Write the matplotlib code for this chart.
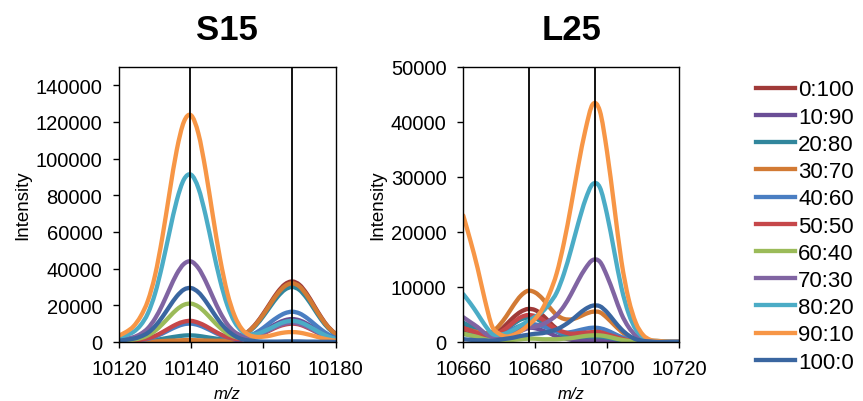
"""
S15 / L25 mass spectra overlay for the mixing ratio series.
Intensities are read off the published figure, in units of 1000 counts.
Curves are drawn as smoothed lines (like a spreadsheet "smooth line" chart).
"""

import matplotlib
matplotlib.use("Agg")
import matplotlib.pyplot as plt
from matplotlib.path import Path
from matplotlib.patches import PathPatch
from matplotlib.lines import Line2D

plt.rcParams['font.family'] = ['Liberation Sans', 'DejaVu Sans']

ratios = ['0:100', '10:90', '20:80', '30:70', '40:60', '50:50',
          '60:40', '70:30', '80:20', '90:10', '100:0']
colors = ['#A03A38', '#6A4E96', '#31869C', '#D27A34', '#4A7EC2', '#C6474A',
          '#9BBB59', '#8064A2', '#4BACC6', '#F79646', '#3A66A0']

# m/z sampling grid (every 2 Da)
s15_mz = list(range(10120, 10182, 2))
l25_mz = list(range(10660, 10722, 2))

# S15 intensities (x1000)
s15_0_100 = [0.0, 0.0, 0.0, 0.0, 0.1, 0.1, 0.1, 0.2, 0.3, 0.3, 0.3, 0.3, 0.2, 0.3, 0.4, 0.8,
             1.6, 3.2, 6.0, 10.1, 15.5, 21.5, 27.3, 31.5, 33.0, 31.2, 26.4, 20.0, 13.6, 8.2, 4.5]
s15_10_90 = [0.0, 0.0, 0.0, 0.1, 0.1, 0.1, 0.2, 0.3, 0.4, 0.5, 0.5, 0.5, 0.4, 0.3, 0.3, 0.4,
             0.7, 1.2, 2.3, 3.8, 5.9, 8.2, 10.3, 11.9, 12.5, 11.8, 10.0, 7.6, 5.1, 3.1, 1.7]
s15_20_80 = [0.1, 0.1, 0.2, 0.4, 0.6, 1.0, 1.7, 2.4, 3.0, 3.5, 3.6, 3.3, 2.7, 2.1, 1.6, 1.5,
             1.8, 3.1, 5.6, 9.2, 14.1, 19.6, 24.8, 28.6, 30.0, 28.4, 24.0, 18.2, 12.3, 7.5, 4.1]
s15_30_70 = [0.0, 0.0, 0.1, 0.1, 0.2, 0.3, 0.5, 0.7, 0.8, 1.0, 1.0, 0.9, 0.8, 0.7, 0.7, 0.9,
             1.6, 3.2, 5.8, 9.8, 15.0, 20.9, 26.5, 30.5, 32.0, 30.3, 25.6, 19.4, 13.2, 8.0, 4.3]
s15_40_60 = [0.3, 0.4, 0.6, 1.0, 1.7, 2.9, 4.6, 6.6, 8.4, 9.7, 10.0, 9.2, 7.6, 5.7, 3.8, 2.6,
             1.9, 2.1, 3.2, 5.1, 7.7, 10.8, 13.6, 15.7, 16.5, 15.6, 13.2, 10.0, 6.8, 4.1, 2.2]
s15_50_50 = [0.3, 0.5, 0.7, 1.2, 2.0, 3.3, 5.3, 7.6, 9.7, 11.1, 11.5, 10.5, 8.7, 6.4, 4.3, 2.7,
             1.8, 1.6, 2.1, 3.2, 4.7, 6.5, 8.3, 9.5, 10.0, 9.5, 8.0, 6.1, 4.1, 2.5, 1.4]
s15_60_40 = [0.5, 0.8, 1.3, 2.1, 3.6, 6.1, 9.7, 13.8, 17.7, 20.3, 20.9, 19.3, 15.9, 11.7, 7.8, 4.7,
             2.9, 2.2, 2.5, 3.6, 5.3, 7.2, 9.1, 10.5, 11.0, 10.4, 8.8, 6.7, 4.5, 2.7, 1.5]
s15_70_30 = [1.1, 1.8, 2.6, 4.4, 7.5, 12.8, 20.2, 28.9, 37.1, 42.6, 43.9, 40.3, 33.2, 24.5, 16.2, 9.7,
             5.5, 3.5, 2.9, 3.6, 5.0, 6.9, 8.7, 10.0, 10.5, 9.9, 8.4, 6.4, 4.3, 2.6, 1.4]
s15_80_20 = [2.3, 3.7, 5.5, 9.2, 15.6, 26.5, 42.1, 60.1, 77.2, 88.7, 91.2, 83.9, 69.1, 50.9, 33.7, 20.1,
             11.0, 6.0, 4.2, 4.3, 5.7, 7.5, 9.5, 11.0, 11.5, 10.9, 9.2, 7.0, 4.7, 2.9, 1.6]
s15_90_10 = [3.5, 5.5, 8.5, 14.0, 22.5, 36.5, 57.0, 81.5, 104.7, 120.2, 123.6, 113.7, 93.6, 68.9, 45.5, 26.9,
             14.4, 7.2, 3.9, 2.8, 2.9, 3.5, 4.5, 5.2, 5.4, 5.1, 4.3, 3.3, 2.2, 1.3, 0.7]
s15_100_0 = [0.7, 1.2, 1.8, 3.0, 5.0, 8.6, 13.6, 19.4, 24.9, 28.6, 29.4, 27.1, 22.3, 16.4, 10.8, 6.4,
             3.4, 1.6, 0.8, 0.4, 0.2, 0.2, 0.2, 0.3, 0.3, 0.3, 0.2, 0.2, 0.1, 0.1, 0.0]

# L25 intensities (x1000)
l25_0_100 = [2.0, 1.7, 1.4, 1.2, 1.3, 2.0, 3.2, 4.5, 5.5, 6.0, 5.8, 4.9, 3.6, 2.4, 1.6, 1.1,
             0.9, 0.8, 0.8, 0.8, 0.6, 0.5, 0.3, 0.1, 0.1, 0.0, 0.0, 0.0, 0.0, 0.0, 0.0]
l25_10_90 = [3.0, 2.4, 1.8, 1.2, 0.8, 1.0, 1.4, 1.9, 2.4, 2.6, 2.5, 2.1, 1.6, 1.0, 0.7, 0.4,
             0.3, 0.3, 0.3, 0.3, 0.2, 0.2, 0.1, 0.1, 0.0, 0.0, 0.0, 0.0, 0.0, 0.0, 0.0]
l25_20_80 = [3.5, 2.9, 2.2, 1.5, 1.2, 1.6, 2.3, 3.3, 4.1, 4.4, 4.3, 3.6, 2.7, 1.9, 1.3, 1.0,
             0.9, 1.0, 1.0, 1.0, 0.8, 0.6, 0.3, 0.2, 0.1, 0.0, 0.0, 0.0, 0.0, 0.0, 0.0]
l25_30_70 = [2.5, 2.1, 1.8, 1.6, 1.8, 3.0, 4.7, 6.7, 8.4, 9.3, 9.0, 7.9, 6.3, 4.9, 4.2, 4.1,
             4.5, 5.1, 5.5, 5.4, 4.4, 3.1, 1.9, 1.0, 0.4, 0.2, 0.1, 0.0, 0.0, 0.0, 0.0]
l25_40_60 = [1.5, 1.2, 1.0, 0.8, 0.7, 1.1, 1.7, 2.4, 3.0, 3.3, 3.2, 2.9, 2.4, 1.9, 1.7, 1.8,
             2.1, 2.4, 2.6, 2.5, 2.1, 1.5, 0.9, 0.5, 0.2, 0.1, 0.0, 0.0, 0.0, 0.0, 0.0]
l25_50_50 = [2.5, 2.1, 1.6, 1.2, 1.1, 1.7, 2.5, 3.6, 4.5, 4.9, 4.7, 4.1, 3.1, 2.3, 1.8, 1.5,
             1.6, 1.7, 1.8, 1.8, 1.4, 1.0, 0.6, 0.3, 0.1, 0.1, 0.0, 0.0, 0.0, 0.0, 0.0]
l25_60_40 = [1.5, 1.2, 0.9, 0.5, 0.3, 0.2, 0.3, 0.4, 0.5, 0.6, 0.6, 0.5, 0.5, 0.5, 0.6, 0.7,
             0.9, 1.1, 1.2, 1.2, 1.0, 0.7, 0.4, 0.2, 0.1, 0.0, 0.0, 0.0, 0.0, 0.0, 0.0]
l25_70_30 = [4.5, 3.6, 2.7, 1.6, 0.9, 0.8, 1.1, 1.5, 2.0, 2.5, 2.8, 3.2, 3.9, 4.9, 6.5, 8.7,
             11.2, 13.4, 14.9, 14.6, 12.0, 8.6, 5.1, 2.7, 1.2, 0.5, 0.2, 0.1, 0.0, 0.0, 0.0]
l25_80_20 = [8.7, 7.0, 5.1, 3.1, 1.5, 1.3, 1.6, 2.2, 3.0, 3.8, 4.6, 5.5, 7.0, 9.0, 12.4, 16.8,
             21.6, 25.9, 28.7, 28.1, 23.2, 16.5, 9.9, 5.2, 2.3, 0.9, 0.3, 0.2, 0.1, 0.0, 0.0]
l25_90_10 = [23.0, 18.4, 13.4, 7.7, 2.9, 1.5, 1.0, 1.3, 2.0, 3.0, 4.2, 6.0, 8.8, 12.5, 18.0, 24.8,
             32.1, 38.6, 43.2, 42.0, 34.6, 24.7, 14.7, 7.8, 3.5, 1.3, 0.4, 0.2, 0.1, 0.0, 0.0]
l25_100_0 = [0.5, 0.4, 0.3, 0.3, 0.2, 0.4, 0.6, 0.8, 1.1, 1.3, 1.5, 1.6, 1.9, 2.3, 3.0, 3.9,
             5.0, 6.0, 6.6, 6.5, 5.4, 3.8, 2.3, 1.2, 0.5, 0.2, 0.1, 0.0, 0.0, 0.0, 0.0]

s15_series = [s15_0_100, s15_10_90, s15_20_80, s15_30_70, s15_40_60, s15_50_50,
              s15_60_40, s15_70_30, s15_80_20, s15_90_10, s15_100_0]
l25_series = [l25_0_100, l25_10_90, l25_20_80, l25_30_70, l25_40_60, l25_50_50,
              l25_60_40, l25_70_30, l25_80_20, l25_90_10, l25_100_0]

# reference m/z markers
s15_marks = [10139.6, 10167.8]
l25_marks = [10678.3, 10696.7]

LW = 3.1


def smooth_path(xs, ys):
    # smoothed line through every data point (cubic Bezier segments, spreadsheet style)
    n = len(xs)
    verts = [(xs[0], ys[0])]
    codes = [Path.MOVETO]
    for i in range(n - 1):
        x0, y0 = (xs[i - 1], ys[i - 1]) if i > 0 else (xs[i], ys[i])
        x1, y1 = xs[i], ys[i]
        x2, y2 = xs[i + 1], ys[i + 1]
        x3, y3 = (xs[i + 2], ys[i + 2]) if i + 2 < n else (x2, y2)
        verts += [(x1 + (x2 - x0) / 6, y1 + (y2 - y0) / 6),
                  (x2 - (x3 - x1) / 6, y2 - (y3 - y1) / 6),
                  (x2, y2)]
        codes += [Path.CURVE4] * 3
    return Path(verts, codes)


def draw_panel(ax, mz, series, marks, title, xlim, ylim, xticks, yticks):
    for vals, col in zip(series, colors):
        path = smooth_path(mz, [v * 1000 for v in vals])
        ax.add_patch(PathPatch(path, facecolor='none', edgecolor=col, lw=LW,
                               capstyle='round', joinstyle='round'))
    for m in marks:
        ax.axvline(m, color='black', lw=1.3, zorder=5)
    ax.set_xlim(*xlim)
    ax.set_ylim(*ylim)
    ax.set_xticks(xticks)
    ax.set_yticks(yticks)
    ax.tick_params(direction='out', length=4, width=1, labelsize=14.5, pad=8, colors='black')
    for sp in ax.spines.values():
        sp.set_color('black')
        sp.set_linewidth(1.0)
    ax.set_title(title, fontsize=25, fontweight='bold', pad=20)
    ax.set_ylabel('Intensity', fontsize=13.5, labelpad=3)
    ax.set_xlabel('m/z', fontsize=12, style='italic', labelpad=6)


fig = plt.figure(figsize=(8.63, 4.02), dpi=100)
ax1 = fig.add_axes([0.1379, 0.1468, 0.2509, 0.6841])
ax2 = fig.add_axes([0.5368, 0.1468, 0.2499, 0.6841])

draw_panel(ax1, s15_mz, s15_series, s15_marks, 'S15', (10120, 10180), (0, 150000),
           [10120, 10140, 10160, 10180], list(range(0, 140001, 20000)))
draw_panel(ax2, l25_mz, l25_series, l25_marks, 'L25', (10660, 10720), (0, 50000),
           [10660, 10680, 10700, 10720], list(range(0, 50001, 10000)))

handles = [Line2D([], [], color=c, lw=LW) for c in colors]
fig.legend(handles, ratios, loc='upper left', bbox_to_anchor=(0.876, 0.80),
           frameon=False, fontsize=16, handlelength=1.75, handletextpad=0.15,
           labelspacing=0.28, borderpad=0, borderaxespad=0)

fig.savefig('out.png', dpi=100)
